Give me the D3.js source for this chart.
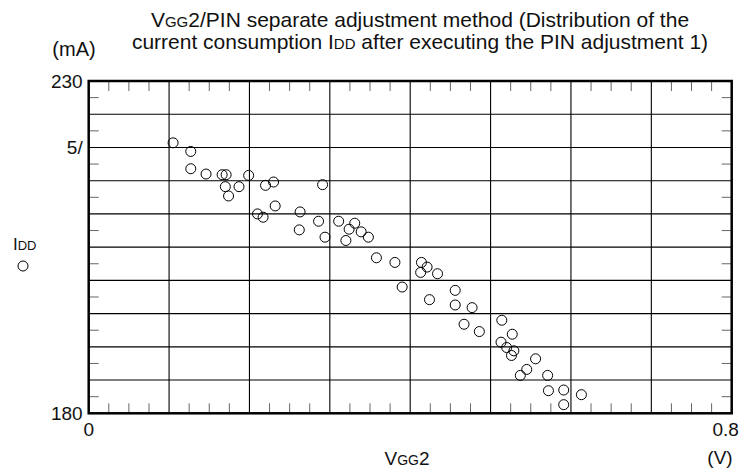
<!DOCTYPE html>
<html>
<head>
<meta charset="utf-8">
<script src="https://cdn.jsdelivr.net/npm/d3@7"></script>
<style>
    body { margin: 0; background: #fff; }
    text { font-family: "Liberation Sans", Arial, sans-serif; fill: #111; }
</style>
</head>
<body>
<svg id="svg"></svg>
<script>
'use strict';

// ================================= data ======================================
var vgg2 = [
    0.105, 0.127, 0.127, 0.146, 0.166, 0.171, 0.170, 0.174, 0.187, 0.199,
    0.220, 0.230, 0.291, 0.232, 0.210, 0.217, 0.263, 0.262, 0.286, 0.294,
    0.311, 0.331, 0.324, 0.339, 0.348, 0.320, 0.358, 0.381, 0.414, 0.421,
    0.413, 0.434, 0.390, 0.424, 0.456, 0.456, 0.477, 0.467, 0.486, 0.514,
    0.527, 0.513, 0.520, 0.529, 0.526, 0.556, 0.545, 0.537, 0.571, 0.572,
    0.591, 0.591, 0.613
]
var idd = [
    220.7, 219.4, 216.8, 216.0, 215.9, 215.9, 214.1, 212.7, 214.1, 215.8,
    214.3, 214.8, 214.4, 211.2, 210.0, 209.5, 210.3, 207.6, 208.9, 206.5,
    208.9, 208.6, 207.7, 207.3, 206.5, 206.0, 203.4, 202.7, 202.7, 202.0,
    201.2, 201.0, 199.0, 197.1, 198.5, 196.3, 195.9, 193.4, 192.3, 194.0,
    191.9, 190.7, 189.9, 189.4, 188.7, 188.2, 186.6, 185.7, 185.7, 183.4,
    183.5, 181.3, 182.8
]

var xDomain = [0, 0.8]
var yDomain = [180, 230]
var xTickValues = [0, 0.8]
var xTickLabels = ["0", "0.8"]
var yTickValues = [230, 220, 180]
var yTickLabels = ["230", "5/", "180"]

// ================================= layout ======================================
var width = 740;
var height = 468;
var plot = { left: 88.7, right: 731.7, top: 81, bottom: 413.3 }

var svg = d3.select("#svg")
    .attr("width", width)
    .attr("height", height)

var x = d3.scaleLinear().domain(xDomain).range([plot.left, plot.right])
var y = d3.scaleLinear().domain(yDomain).range([plot.bottom, plot.top])

// gridlines every 0.1 V and 5 mA
var xGrid = d3.range(1, 8).map(i => i * 0.1)
var yGrid = d3.range(1, 10).map(i => 180 + i * 5)
// minor ticks, 3 between x gridlines, 1 between y gridlines
var xMinor = d3.range(0, 32).map(i => i * 0.025).filter((v, i) => i % 4 != 0)
var yMinor = d3.range(0, 10).map(i => 182.5 + i * 5)

var grid = svg.append("g")
    .attr("stroke", "#000")
    .attr("stroke-width", 1.1)

grid.selectAll("line.gx")
    .data(xGrid)
    .join("line")
    .attr("class", "gx")
    .attr("x1", d => x(d)).attr("x2", d => x(d))
    .attr("y1", plot.top).attr("y2", plot.bottom)

grid.selectAll("line.gy")
    .data(yGrid)
    .join("line")
    .attr("class", "gy")
    .attr("x1", plot.left).attr("x2", plot.right)
    .attr("y1", d => y(d)).attr("y2", d => y(d))

var ticks = svg.append("g")
    .attr("stroke", "#666")
    .attr("stroke-width", 1)
var tickLen = 10

// top and bottom minor ticks
ticks.selectAll("line.tt")
    .data(xMinor)
    .join("line")
    .attr("class", "tt")
    .attr("x1", d => x(d)).attr("x2", d => x(d))
    .attr("y1", plot.top).attr("y2", plot.top + tickLen)
ticks.selectAll("line.tb")
    .data(xMinor)
    .join("line")
    .attr("class", "tb")
    .attr("x1", d => x(d)).attr("x2", d => x(d))
    .attr("y1", plot.bottom).attr("y2", plot.bottom - tickLen)

// left and right minor ticks
ticks.selectAll("line.tl")
    .data(yMinor)
    .join("line")
    .attr("class", "tl")
    .attr("x1", plot.left).attr("x2", plot.left + tickLen)
    .attr("y1", d => y(d)).attr("y2", d => y(d))
ticks.selectAll("line.tr")
    .data(yMinor)
    .join("line")
    .attr("class", "tr")
    .attr("x1", plot.right).attr("x2", plot.right - tickLen)
    .attr("y1", d => y(d)).attr("y2", d => y(d))

// frame
svg.append("rect")
    .attr("x", plot.left)
    .attr("y", plot.top)
    .attr("width", plot.right - plot.left)
    .attr("height", plot.bottom - plot.top)
    .attr("fill", "none")
    .attr("stroke", "#000")
    .attr("stroke-width", 2.5)

// ================================= points ======================================
svg.append("g")
    .selectAll("circle")
    .data(vgg2)
    .join("circle")
    .attr("cx", d => x(d))
    .attr("cy", (d, i) => y(idd[i]))
    .attr("r", 5)
    .attr("fill", "none")
    .attr("stroke", "#000")
    .attr("stroke-width", 1)

// ================================= labels ======================================
svg.append("g")
    .selectAll("text")
    .data(yTickValues)
    .join("text")
    .attr("x", plot.left - 6)
    .attr("y", d => y(d) + 7)
    .attr("text-anchor", "end")
    .style("font-size", "19px")
    .text((d, i) => yTickLabels[i])

svg.append("g")
    .selectAll("text")
    .data(xTickValues)
    .join("text")
    .attr("x", (d, i) => x(d) - (i == 1 ? 6 : 0))
    .attr("y", plot.bottom + 23)
    .attr("text-anchor", "middle")
    .style("font-size", "19px")
    .text((d, i) => xTickLabels[i])

svg.append("text")
    .attr("x", 74).attr("y", 56)
    .attr("text-anchor", "middle")
    .style("font-size", "20px")
    .text("(mA)")

svg.append("text")
    .attr("x", 720).attr("y", 464)
    .attr("text-anchor", "middle")
    .style("font-size", "19px")
    .text("(V)")

// small caps pieces like V<GG>2 and I<DD>
function smallCaps(sel, parts, big, small) {
    parts.forEach(p => {
        sel.append("tspan")
            .style("font-size", (p[1] ? small : big) + "px")
            .text(p[0])
    })
}

var xLabel = svg.append("text")
    .attr("x", 407).attr("y", 465)
    .attr("text-anchor", "middle")
smallCaps(xLabel, [["V", 0], ["GG", 1], ["2", 0]], 19, 14)

var yLabel = svg.append("text")
    .attr("x", 13).attr("y", 250)
smallCaps(yLabel, [["I", 0], ["DD", 1]], 17, 13)

// legend marker under IDD
svg.append("circle")
    .attr("cx", 23).attr("cy", 266)
    .attr("r", 5)
    .attr("fill", "none")
    .attr("stroke", "#000")

var t1 = svg.append("text")
    .attr("x", 420).attr("y", 27)
    .attr("text-anchor", "middle")
smallCaps(t1, [["V", 0], ["GG", 1], ["2/PIN separate adjustment method (Distribution of the", 0]], 21, 15)

var t2 = svg.append("text")
    .attr("x", 420).attr("y", 49)
    .attr("text-anchor", "middle")
smallCaps(t2, [["current consumption I", 0], ["DD", 1], [" after executing the PIN adjustment 1)", 0]], 21, 15)
</script>
</body>
</html>
